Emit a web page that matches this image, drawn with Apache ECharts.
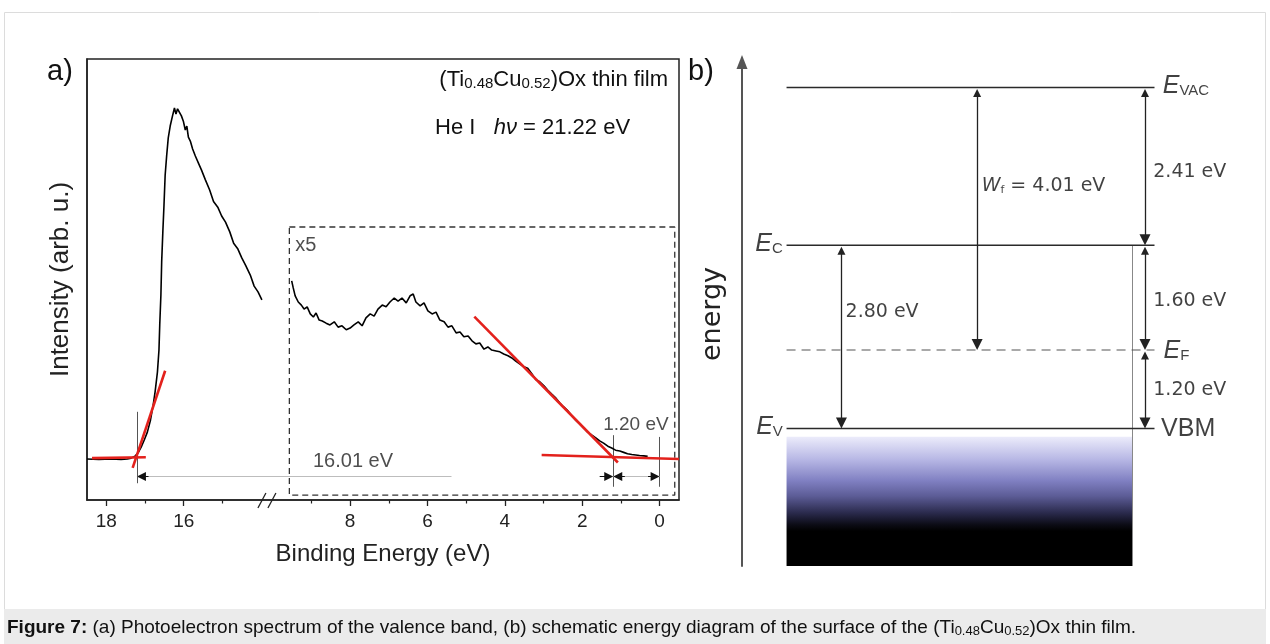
<!DOCTYPE html>
<html>
<head>
<meta charset="utf-8">
<title>Figure 7</title>
<script src="https://cdn.jsdelivr.net/npm/echarts@6/dist/echarts.min.js"></script>
<style>
  html, body { margin: 0; padding: 0; background: #fff; }
  #chart { width: 1270px; height: 644px; }
</style>
</head>
<body>
<div id="chart"></div>
<script>
// ---------- panel a: UPS spectrum ----------
// secondary electron cut-off part (left of the axis break)
const cutoffBE = [18.50, 18.19, 17.88, 17.62, 17.46, 17.36, 17.25, 17.18, 17.10, 17.02,
  16.94, 16.86, 16.79, 16.74, 16.68, 16.64, 16.62, 16.59, 16.57, 16.54,
  16.51, 16.48, 16.44, 16.40, 16.35, 16.29, 16.24, 16.20, 16.16, 16.11,
  16.06, 16.01, 15.96, 15.92, 15.88, 15.83, 15.77, 15.70, 15.62, 15.54,
  15.44, 15.33, 15.23, 15.12, 15.02, 14.92, 14.81, 14.71, 14.60, 14.50,
  14.40, 14.28, 14.18, 14.08, 13.98];
const cutoffI = [9.3, 9.2, 9.3, 9.2, 9.3, 9.5, 10.0, 10.7, 12.0, 13.6,
  15.4, 18.1, 21.5, 24.5, 29.0, 34.0, 39.7, 46.5, 54.0, 60.8,
  66.9, 73.7, 78.2, 82.1, 84.8, 87.1, 88.9, 87.5, 88.7, 88.4,
  87.1, 85.9, 83.9, 84.8, 82.3, 81.4, 79.6, 78.0, 76.4, 74.8,
  72.6, 70.3, 67.7, 66.4, 64.4, 63.0, 60.8, 58.2, 56.9, 54.9,
  53.2, 51.0, 48.5, 47.2, 45.4];

// valence band part (x5), right of the break
const vbBE = [9.51, 9.47, 9.42, 9.34, 9.26, 9.19, 9.11, 9.03, 8.95, 8.88, 8.80,
  8.72, 8.62, 8.52, 8.41, 8.31, 8.21, 8.10, 8.00, 7.90, 7.79,
  7.69, 7.59, 7.48, 7.38, 7.28, 7.17, 7.07, 6.97, 6.86, 6.76,
  6.66, 6.55, 6.45, 6.37, 6.30, 6.19, 6.09, 5.99, 5.88, 5.78,
  5.68, 5.57, 5.47, 5.37, 5.26, 5.16, 5.06, 4.95, 4.85, 4.75,
  4.65, 4.54, 4.44, 4.34, 4.23, 4.13, 4.03, 3.92, 3.82, 3.72,
  3.61, 3.51, 3.41, 3.30, 3.20, 3.10, 2.99, 2.89, 2.79, 2.68,
  2.58, 2.48, 2.37, 2.27, 2.17, 2.06, 1.96, 1.86, 1.75, 1.65,
  1.55, 1.45, 1.34, 1.24, 1.14, 1.03, 0.93, 0.83, 0.72, 0.62,
  0.52, 0.41, 0.31];
const vbI = [49.7, 48.1, 46.3, 44.9, 44.2, 43.3, 43.8, 42.2, 41.5, 42.4, 40.8,
  40.6, 40.1, 39.7, 40.4, 39.2, 39.5, 38.6, 39.0, 39.7, 40.4,
  39.5, 41.3, 42.2, 41.7, 43.3, 44.2, 43.8, 44.9, 45.8, 45.1,
  45.8, 44.7, 46.3, 46.7, 44.9, 44.0, 44.7, 42.9, 42.2, 42.6,
  40.8, 40.4, 39.2, 39.5, 37.9, 38.1, 37.0, 37.2, 36.1, 35.4,
  35.6, 34.2, 34.7, 34.0, 33.8, 33.6, 33.1, 32.7, 32.2, 31.5,
  30.8, 30.2, 29.9, 28.6, 27.3, 26.8, 25.9, 24.9, 24.0, 23.1,
  22.0, 21.1, 20.2, 19.1, 18.1, 17.2, 16.3, 15.4, 14.7, 14.1,
  13.4, 12.9, 12.2, 11.8, 11.3, 11.1, 10.8, 10.5, 10.3, 10.2,
  10.1, 10.0, 9.9];

// linear fits (red), [BE, I] end points
const fitCutoffBase = [[18.37, 9.5], [16.98, 9.7]];
const fitCutoffEdge = [[17.32, 7.3], [16.48, 29.3]];
const fitVbEdge = [[4.79, 41.6], [1.08, 8.5]];
const fitVbBase = [[3.05, 10.2], [-0.5, 9.3]];

const photonEnergy = 21.22;
const cutoffEnergy = 17.21;
const vbmEnergy = 1.20;
const vbScale = 5;
const vbWindow = [[9.57, 61.9], [-0.39, 1.1]]; // dashed "x5" box corners

const majorTicks = [18, 16, 8, 6, 4, 2, 0];
const minorTicks = [17, 15, 9, 7, 5, 3, 1];

// ---------- panel b: energy levels (eV, relative to E_F) ----------
const levelKeys = ['VAC', 'C', 'F', 'V'];
const levelEnergy = [4.01, 1.60, 0.00, -1.20];
const bandBottom = -3.3;

// ---------- layout ----------
const SANS = 'Liberation Sans, Arial, sans-serif';
const DEJA = 'DejaVu Sans, Verdana, sans-serif';
const INK = '#111';

const AXIS_SHIFT = 3.7;   // left part of the broken axis is drawn shifted by this
const BREAK_AT = 10.15;   // break position in drawn axis units
const toAxis = be => (be > BREAK_AT + AXIS_SHIFT ? be - AXIS_SHIFT : be);
const fromAxis = v => (v > BREAK_AT ? v + AXIS_SHIFT : v);
const A_UNIT_PX = 592 / 15.3;   // px per eV in panel a
const B_UNIT_PX = 504 / 7.7;    // px per eV in panel b

const pair = (xs, ys) => xs.map((x, i) => [toAxis(x), ys[i]]);
const seg = pts => pts.map(p => [toAxis(p[0]), p[1]]);

const eVac = levelEnergy[0], eC = levelEnergy[1], eF = levelEnergy[2], eV = levelEnergy[3];

// panel b x positions (0..128 axis)
const LV_X0 = 10.8, LV_X1 = 100, BAND_X1 = 94.7, WF_X = 57.0, GAP_X = 24.1, RIGHT_X = 97.7;

// small helpers for arrows
const ARROW_Y = 5.35;
const HA = 4.5 / A_UNIT_PX;
const headA = (tip, dir) => ({ coords: [[tip - dir * 0.3, ARROW_Y], [tip - dir * HA, ARROW_Y]] });
const HB = 5.5 / B_UNIT_PX;
const dblB = (x, top, bottom) => ({ coords: [[x, top - HB], [x, bottom + HB]] });

const chart = echarts.init(document.getElementById('chart'));

const redLine = pts => ({
  type: 'line', xAxisIndex: 0, yAxisIndex: 0, data: seg(pts),
  showSymbol: false, symbol: 'none', silent: true, z: 4,
  lineStyle: { color: '#e3211c', width: 2.6 }
});

const levelLine = (e, dashed) => ({
  type: 'line', xAxisIndex: 2, yAxisIndex: 1,
  data: [[LV_X0, e], [LV_X1, e]], symbol: 'none', silent: true,
  lineStyle: dashed ? { color: '#555', width: 1.2, type: [9, 6] } : { color: '#2a2a2a', width: 1.5 }
});

const fmt2 = v => v.toFixed(2) + ' eV';

const option = {
  animation: false,
  backgroundColor: 'transparent',
  grid: [
    { left: 87, top: 59, width: 592, bottom: 144, show: true, borderColor: '#222', borderWidth: 1.5 },
    { left: 742, top: 62, right: 0, bottom: 78 }
  ],
  xAxis: [
    {
      type: 'value', gridIndex: 0, min: -0.5, max: 14.8, inverse: true, position: 'bottom',
      axisLine: { show: true, onZero: false, lineStyle: { color: '#222', width: 1.5 } },
      axisTick: { show: true, customValues: majorTicks.map(toAxis), length: 6, lineStyle: { color: '#222', width: 1.3 } },
      axisLabel: {
        customValues: majorTicks.map(toAxis), formatter: v => String(Math.round(fromAxis(v))),
        fontFamily: SANS, fontSize: 19, color: '#222', margin: 12
      },
      splitLine: { show: false },
      name: 'Binding Energy (eV)', nameLocation: 'middle', nameGap: 42,
      nameTextStyle: { fontFamily: SANS, fontSize: 24, color: '#222' }
    },
    {
      type: 'value', gridIndex: 0, min: -0.5, max: 14.8, inverse: true, position: 'bottom',
      axisLine: { show: false, onZero: false },
      axisTick: { show: true, customValues: minorTicks.map(toAxis), length: 3.5, lineStyle: { color: '#222', width: 1.2 } },
      axisLabel: { show: false }, splitLine: { show: false }
    },
    { type: 'value', gridIndex: 1, min: 0, max: 128, show: false, axisLine: { onZero: false } }
  ],
  yAxis: [
    {
      type: 'value', gridIndex: 0, min: 0, max: 100,
      axisLine: { show: true, onZero: false, lineStyle: { color: '#222', width: 1.5 } },
      axisTick: { show: false }, axisLabel: { show: false }, splitLine: { show: false },
      name: 'Intensity (arb. u.)', nameLocation: 'middle', nameGap: 13,
      nameTextStyle: { fontFamily: SANS, fontSize: 26, color: '#222' }
    },
    {
      type: 'value', gridIndex: 1, min: bandBottom, max: 4.4,
      axisLine: {
        show: true, onZero: false, symbol: ['none', 'triangle'], symbolSize: [11, 14],
        lineStyle: { color: '#555', width: 2 }
      },
      axisTick: { show: false }, axisLabel: { show: false }, splitLine: { show: false },
      name: 'energy', nameLocation: 'middle', nameGap: 16,
      nameTextStyle: { fontFamily: DEJA, fontSize: 27, color: '#222' }
    }
  ],
  series: [
    // ----- panel a -----
    {
      type: 'line', xAxisIndex: 0, yAxisIndex: 0, data: pair(cutoffBE, cutoffI),
      symbol: 'none', silent: true, z: 3, lineStyle: { color: '#000', width: 1.6 }
    },
    {
      type: 'line', xAxisIndex: 0, yAxisIndex: 0, data: pair(vbBE, vbI),
      symbol: 'none', silent: true, z: 3, lineStyle: { color: '#000', width: 1.6 }
    },
    redLine(fitCutoffBase), redLine(fitCutoffEdge), redLine(fitVbEdge), redLine(fitVbBase),
    {
      // dashed x5 window
      type: 'line', xAxisIndex: 0, yAxisIndex: 0, symbol: 'none', silent: true, z: 2,
      data: [[vbWindow[0][0], vbWindow[0][1]], [vbWindow[1][0], vbWindow[0][1]],
             [vbWindow[1][0], vbWindow[1][1]], [vbWindow[0][0], vbWindow[1][1]],
             [vbWindow[0][0], vbWindow[0][1]]],
      lineStyle: { color: '#333', width: 1.3, type: [6, 4] }
    },
    {
      // marker lines at cut-off, VBM and E_F
      type: 'lines', coordinateSystem: 'cartesian2d', xAxisIndex: 0, yAxisIndex: 0, silent: true, z: 3,
      lineStyle: { color: '#555', width: 1, opacity: 1, curveness: 0 },
      data: [
        { coords: [[toAxis(cutoffEnergy), 20.0], [toAxis(cutoffEnergy), 3.8]] },
        { coords: [[vbmEnergy, 14.7], [vbmEnergy, 3.0]] },
        { coords: [[0, 14.3], [0, 3.0]] }
      ]
    },
    {
      // light shafts of the dimension arrows
      type: 'lines', coordinateSystem: 'cartesian2d', xAxisIndex: 0, yAxisIndex: 0, silent: true, z: 3,
      lineStyle: { color: '#bdbdbd', width: 1, opacity: 1, curveness: 0 },
      data: [
        { coords: [[toAxis(cutoffEnergy), ARROW_Y], [5.38, ARROW_Y]] },
        { coords: [[vbmEnergy, ARROW_Y], [0, ARROW_Y]] }
      ]
    },
    {
      // arrow heads
      type: 'lines', coordinateSystem: 'cartesian2d', xAxisIndex: 0, yAxisIndex: 0, silent: true, z: 4,
      symbol: ['none', 'triangle'], symbolSize: [6, 9],
      lineStyle: { color: '#111', width: 1, opacity: 1, curveness: 0 },
      data: [
        headA(toAxis(cutoffEnergy), 1),
        { coords: [[vbmEnergy + 0.35, ARROW_Y], [vbmEnergy + HA, ARROW_Y]] },
        headA(vbmEnergy, 1),
        headA(0, -1)
      ]
    },
    {
      // axis break marks
      type: 'custom', xAxisIndex: 0, yAxisIndex: 0, clip: false, silent: true, z: 6,
      data: [[BREAK_AT, 0]],
      renderItem: (params, api) => {
        const p = api.coord([api.value(0), api.value(1)]);
        const st = { stroke: '#222', lineWidth: 1.3 };
        return {
          type: 'group', children: [
            { type: 'line', shape: { x1: p[0] - 9, y1: p[1] + 8, x2: p[0] - 1, y2: p[1] - 7 }, style: st },
            { type: 'line', shape: { x1: p[0] + 1, y1: p[1] + 8, x2: p[0] + 9, y2: p[1] - 7 }, style: st }
          ]
        };
      }
    },
    {
      type: 'scatter', xAxisIndex: 0, yAxisIndex: 0, symbolSize: 0, silent: true, clip: false, z: 7,
      label: { show: true, position: 'right', distance: 0, fontFamily: SANS, color: '#222', fontSize: 20 },
      data: [
        { value: [8.96, 8.7], label: { formatter: fmt2(cutoffEnergy - vbmEnergy) } },
        { value: [1.46, 17.0], label: { formatter: fmt2(vbmEnergy), fontSize: 19 } },
        { value: [9.42, 57.7], label: { formatter: 'x' + vbScale } }
      ]
    },
    // ----- panel b -----
    Object.assign(levelLine(eVac, false), {
      markArea: {
        silent: true,
        itemStyle: {
          color: new echarts.graphic.LinearGradient(0, 0, 0, 1, [
            { offset: 0, color: '#ececfb' },
            { offset: 0.18, color: '#b6b6e4' },
            { offset: 0.34, color: '#8080c2' },
            { offset: 0.46, color: '#5c5c96' },
            { offset: 0.59, color: '#2a2a4c' },
            { offset: 0.68, color: '#0c0c16' },
            { offset: 0.73, color: '#000000' },
            { offset: 1, color: '#000000' }
          ])
        },
        data: [[{ coord: [LV_X0, eV - 0.125] }, { coord: [BAND_X1, bandBottom] }]]
      }
    }),
    levelLine(eC, false), levelLine(eF, true), levelLine(eV, false),
    {
      type: 'lines', coordinateSystem: 'cartesian2d', xAxisIndex: 2, yAxisIndex: 1, silent: true,
      lineStyle: { color: '#888', width: 1, opacity: 1, curveness: 0 },
      data: [{ coords: [[BAND_X1, eC], [BAND_X1, bandBottom]] }]
    },
    {
      type: 'lines', coordinateSystem: 'cartesian2d', xAxisIndex: 2, yAxisIndex: 1, silent: true, z: 4,
      symbol: ['triangle', 'triangle'], symbolSize: [8, 11],
      lineStyle: { color: '#222', width: 1.3, opacity: 1, curveness: 0 },
      data: [
        dblB(WF_X, eVac, eF),
        dblB(GAP_X, eC, eV),
        dblB(RIGHT_X, eVac, eC),
        dblB(RIGHT_X, eC, eF),
        dblB(RIGHT_X, eF, eV)
      ]
    },
    {
      type: 'scatter', xAxisIndex: 2, yAxisIndex: 1, symbolSize: 0, silent: true, clip: false, z: 7,
      label: {
        show: true, position: 'right', distance: 0, fontFamily: DEJA, fontSize: 19, color: INK,
        rich: {
          e: { fontFamily: SANS, fontSize: 25, fontStyle: 'italic', color: INK },
          s: { fontFamily: SANS, fontSize: 15, lineHeight: 4, verticalAlign: 'bottom', color: INK },
          w: { fontFamily: DEJA, fontSize: 19, fontStyle: 'italic', color: INK },
          f: { fontFamily: DEJA, fontSize: 11, lineHeight: 4, verticalAlign: 'bottom', color: INK }
        }
      },
      data: [
        { value: [102, eVac + 0.02], label: { formatter: '{e|E}{s|' + levelKeys[0] + '}' } },
        { value: [9.9, eC + 0.02], label: { position: 'left', formatter: '{e|E}{s|' + levelKeys[1] + '}' } },
        { value: [102.2, eF - 0.02], label: { formatter: '{e|E}{s|' + levelKeys[2] + '}' } },
        { value: [9.9, eV + 0.02], label: { position: 'left', formatter: '{e|E}{s|' + levelKeys[3] + '}' } },
        { value: [101.6, eV - 0.01], label: { formatter: 'VBM', fontFamily: SANS, fontSize: 25 } },
        { value: [58.1, 2.51], label: { formatter: '{w|W}{f|f} = ' + fmt2(eVac - eF) } },
        { value: [25.1, 0.585], label: { formatter: fmt2(eC - eV) } },
        { value: [99.7, 2.72], label: { formatter: fmt2(eVac - eC) } },
        { value: [99.7, 0.75], label: { formatter: fmt2(eC - eF) } },
        { value: [99.7, -0.61], label: { formatter: fmt2(eF - eV) } }
      ]
    }
  ],
  graphic: [
    {
      type: 'rect', silent: true, z: -10,
      shape: { x: 4.5, y: 12.5, width: 1261, height: 597 },
      style: { fill: '#fff', stroke: '#dcdcdc', lineWidth: 1 }
    },
    {
      type: 'rect', silent: true, z: -9,
      shape: { x: 4, y: 609, width: 1262, height: 35 },
      style: { fill: '#ebebeb' }
    },
    {
      type: 'text', x: 7, y: 628, silent: true,
      style: {
        text: '{b|Figure 7:} (a) Photoelectron spectrum of the valence band, (b) schematic energy diagram of the surface of the (Ti{s|0.48}Cu{s|0.52})Ox thin film.',
        fontFamily: SANS, fontSize: 19, fill: INK, verticalAlign: 'middle',
        rich: {
          b: { fontFamily: SANS, fontSize: 19, fontWeight: 'bold', fill: INK },
          s: { fontFamily: SANS, fontSize: 13, lineHeight: 3, verticalAlign: 'bottom', fill: INK }
        }
      }
    },
    {
      type: 'text', x: 47, y: 72, silent: true,
      style: { text: 'a)', fontFamily: SANS, fontSize: 29, fill: INK, verticalAlign: 'middle' }
    },
    {
      type: 'text', x: 688, y: 72, silent: true,
      style: { text: 'b)', fontFamily: SANS, fontSize: 29, fill: INK, verticalAlign: 'middle' }
    },
    {
      type: 'text', x: 668, y: 80, silent: true,
      style: {
        text: '(Ti{s|0.48}Cu{s|0.52})Ox thin film',
        fontFamily: SANS, fontSize: 22, fill: INK, align: 'right', verticalAlign: 'middle',
        rich: { s: { fontFamily: SANS, fontSize: 15, lineHeight: 4, verticalAlign: 'bottom', fill: INK } }
      }
    },
    {
      type: 'text', x: 435, y: 128, silent: true,
      style: {
        text: 'He I   {i|h\u03bd} = ' + photonEnergy.toFixed(2) + ' eV',
        fontFamily: SANS, fontSize: 22, fill: INK, align: 'left', verticalAlign: 'middle',
        rich: { i: { fontFamily: SANS, fontSize: 22, fontStyle: 'italic', fill: INK } }
      }
    }
  ]
};

chart.setOption(option);
</script>
</body>
</html>
